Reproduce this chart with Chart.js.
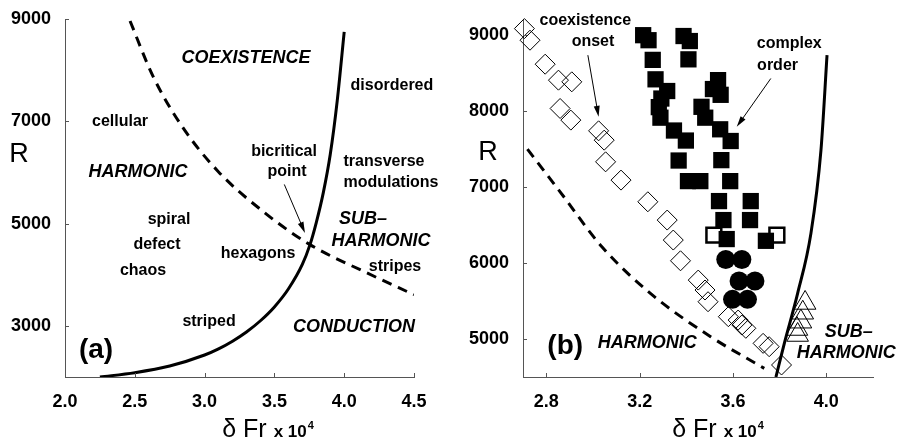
<!DOCTYPE html>
<html><head><meta charset="utf-8">
<script src="https://cdn.jsdelivr.net/npm/chart.js@4.4.1/dist/chart.umd.min.js"></script>
<style>
html,body{margin:0;padding:0;background:#fff;}
#wrap{position:relative;width:897px;height:443px;overflow:hidden;background:#fff;}
#ca{position:absolute;left:0;top:0;}
#cb{position:absolute;left:450px;top:0;}
</style></head><body>
<div id="wrap"><canvas id="ca" width="450" height="443"></canvas><canvas id="cb" width="447" height="443"></canvas></div>
<script>
// ---------- Panel (a) data ----------
const xTicksA = [2.0, 2.5, 3.0, 3.5, 4.0, 4.5];
const yTicksA = [3000, 5000, 7000, 9000];
const solidAX = [2.25, 2.5, 2.75, 3.0, 3.1, 3.2, 3.3, 3.4, 3.5, 3.6, 3.7, 3.755, 3.8, 3.85, 3.9, 3.95, 4.0];
const solidAY = [2000, 2085, 2215, 2430, 2550, 2700, 2880, 3100, 3370, 3720, 4200, 4588, 5020, 5600, 6350, 7400, 8750];
const dashAX = [2.466, 2.63, 2.838, 3.097, 3.447, 3.755, 4.16, 4.5];
const dashAY = [8960, 7882, 6902, 6020, 5176, 4588, 4039, 3608];
const annTextA = ['COEXISTENCE', 'disordered', 'cellular', 'HARMONIC', 'bicritical', 'point', 'transverse', 'modulations',
  'SUB\u2013', 'HARMONIC', 'spiral', 'defect', 'chaos', 'hexagons', 'stripes', 'striped', 'CONDUCTION', '(a)'];
const annXA = [3.297, 4.342, 2.394, 2.523, 3.569, 3.59, 4.285, 4.335, 4.135, 4.264, 2.745, 2.659, 2.559, 3.383, 4.364, 3.032, 4.07, 2.222];
const annYA = [8235, 7706, 7000, 6000, 6412, 6020, 6216, 5804, 5098, 4667, 5078, 4588, 4078, 4412, 4157, 3078, 2980, 2529];
const annKindA = ['c', 'l', 'l', 'c', 'l', 'l', 'l', 'l', 'c', 'c', 'l', 'l', 'l', 'l', 'l', 'l', 'c', 'p'];
const arrowsA = [[3.571, 5765, 3.719, 4818]];

// ---------- Panel (b) data ----------
const xTicksB = [2.8, 3.2, 3.6, 4.0];
const yTicksB = [5000, 6000, 7000, 8000, 9000];
const solidBX = [3.784, 3.82, 3.877, 3.934, 3.977, 4.003];
const solidBY = [4500, 4943, 5601, 6391, 7487, 8737];
const dashBX = [2.719, 2.859, 3.038, 3.246, 3.504, 3.734];
const dashBY = [7500, 6938, 6215, 5601, 5031, 4614];
const diamondX = [2.706, 2.73, 2.795, 2.852, 2.909, 2.859, 2.905, 3.024, 3.048, 3.054, 3.12, 3.235, 3.318, 3.344, 3.375, 3.451, 3.48, 3.493, 3.58, 3.622, 3.638, 3.655, 3.729, 3.755, 3.808];
const diamondY = [9087, 8934, 8618, 8408, 8386, 8035, 7882, 7741, 7618, 7333, 7092, 6807, 6566, 6303, 6030, 5776, 5645, 5491, 5294, 5250, 5184, 5141, 4943, 4899, 4658];
const squareX = [3.215, 3.238, 3.256, 3.268, 3.318, 3.293, 3.282, 3.289, 3.347, 3.398, 3.367, 3.407, 3.46, 3.388, 3.415, 3.409, 3.536, 3.514, 3.547, 3.465, 3.481, 3.545, 3.59, 3.55, 3.588, 3.54, 3.676, 3.559, 3.673, 3.573, 3.741];
const squareY = [9000, 8934, 8675, 8419, 8265, 8166, 8053, 7914, 7745, 7613, 7350, 7079, 7079, 8989, 8923, 8682, 8408, 8291, 8215, 8057, 7914, 7761, 7607, 7355, 7079, 6816, 6816, 6566, 6566, 6316, 6293];
const circleX = [3.569, 3.638, 3.626, 3.694, 3.598, 3.662];
const circleY = [6048, 6048, 5763, 5763, 5522, 5522];
const openSqX = [3.518, 3.788];
const openSqY = [6368, 6368];
const triX = [3.909, 3.899, 3.891, 3.874, 3.877];
const triY = [5475, 5346, 5228, 5132, 5053];
const annTextB = ['coexistence', 'onset', 'complex', 'order', '(b)', 'HARMONIC', 'SUB\u2013', 'HARMONIC'];
const annXB = [2.967, 3.0, 3.841, 3.791, 2.881, 3.232, 4.096, 4.085];
const annYB = [9197, 8912, 8890, 8596, 4899, 4943, 5096, 4811];
const annKindB = ['l', 'l', 'l', 'l', 'p', 'c', 'c', 'c'];
const arrowsB = [[2.978, 8737, 3.024, 7925], [3.762, 8430, 3.616, 7793]];

// ---------- helpers ----------
const FAM = "'Liberation Sans', Arial, Helvetica, sans-serif";
Chart.defaults.font.family = FAM;
const pts = (xs, ys) => xs.map((x, i) => ({x: x, y: ys[i]}));
const kindFont = {c: 'italic bold 18px ' + FAM, l: 'bold 16px ' + FAM, p: 'bold 28px ' + FAM};

function decor(cfg) {
  return {
    id: 'decor',
    afterDraw(chart) {
      const ctx = chart.ctx, xs = chart.scales.x, ys = chart.scales.y, ca = chart.chartArea;
      ctx.save();
      // inward ticks
      ctx.strokeStyle = '#555'; ctx.lineWidth = 1;
      cfg.xTicks.forEach(v => {
        const p = Math.round(xs.getPixelForValue(v)) + 0.5;
        ctx.beginPath(); ctx.moveTo(p, ca.bottom); ctx.lineTo(p, ca.bottom - 4); ctx.stroke();
      });
      cfg.yTicks.forEach(v => {
        const p = Math.round(ys.getPixelForValue(v)) + 0.5;
        ctx.beginPath(); ctx.moveTo(ca.left, p); ctx.lineTo(ca.left + 4, p); ctx.stroke();
      });
      // arrows
      ctx.strokeStyle = '#000'; ctx.fillStyle = '#000'; ctx.lineWidth = 1;
      cfg.arrows.forEach(a => {
        const x1 = xs.getPixelForValue(a[0]), y1 = ys.getPixelForValue(a[1]);
        const x2 = xs.getPixelForValue(a[2]), y2 = ys.getPixelForValue(a[3]);
        const ang = Math.atan2(y2 - y1, x2 - x1), L = 11, W = 3;
        ctx.beginPath(); ctx.moveTo(x1, y1);
        ctx.lineTo(x2 - Math.cos(ang) * L * 0.8, y2 - Math.sin(ang) * L * 0.8); ctx.stroke();
        ctx.beginPath(); ctx.moveTo(x2, y2);
        ctx.lineTo(x2 - Math.cos(ang) * L - Math.sin(ang) * W, y2 - Math.sin(ang) * L + Math.cos(ang) * W);
        ctx.lineTo(x2 - Math.cos(ang) * L + Math.sin(ang) * W, y2 - Math.sin(ang) * L - Math.cos(ang) * W);
        ctx.closePath(); ctx.fill();
      });
      // annotations
      ctx.textAlign = 'center'; ctx.textBaseline = 'middle'; ctx.fillStyle = '#000';
      cfg.text.forEach((t, i) => {
        ctx.font = kindFont[cfg.kind[i]];
        ctx.fillText(t, xs.getPixelForValue(cfg.tx[i]), ys.getPixelForValue(cfg.ty[i]));
      });
      // y title "R"
      ctx.font = '27px ' + FAM;
      ctx.fillText('R', cfg.rX, cfg.rY);
      // x title
      ctx.textAlign = 'left'; ctx.textBaseline = 'alphabetic';
      const f1 = '25px ' + FAM, f2 = 'bold 17px ' + FAM, f3 = 'bold 11px ' + FAM;
      ctx.font = f1; const w1 = ctx.measureText('\u03b4 Fr').width;
      ctx.font = f2; const w2 = ctx.measureText('x 10').width;
      ctx.font = f3; const w3 = ctx.measureText('4').width;
      const gap = 7, total = w1 + gap + w2 + 1 + w3;
      let x0 = cfg.tCenter - total / 2; const base = 437;
      ctx.font = f1; ctx.fillText('\u03b4 Fr', x0, base);
      ctx.font = f2; ctx.fillText('x 10', x0 + w1 + gap, base);
      ctx.font = f3; ctx.fillText('4', x0 + w1 + gap + w2 + 1, base - 8);
      ctx.restore();
    }
  };
}

function axes(xMin, xMax, yMin, yMax, xT, yT, yW, xDigits) {
  return {
    x: {
      type: 'linear', min: xMin, max: xMax,
      afterBuildTicks: s => { s.ticks = xT.map(v => ({value: v})); },
      afterFit: s => { s.height = 66; },
      grid: {display: false},
      border: {display: true, color: '#555', width: 1},
      ticks: {autoSkip: false, maxRotation: 0, padding: 6, color: '#000',
        font: {size: 18, weight: 'bold'}, callback: v => Number(v).toFixed(xDigits)}
    },
    y: {
      type: 'linear', min: yMin, max: yMax,
      afterBuildTicks: s => { s.ticks = yT.map(v => ({value: v})); },
      afterFit: s => { s.width = yW; },
      grid: {display: false},
      border: {display: true, color: '#555', width: 1},
      ticks: {autoSkip: false, padding: 6, color: '#000',
        font: {size: 18, weight: 'bold'}, callback: v => String(v)}
    }
  };
}

const lineDs = (xs, ys, dashed) => ({
  data: pts(xs, ys), showLine: true, pointRadius: 0, borderColor: '#000', borderWidth: 3,
  borderDash: dashed ? [10, 7] : [], cubicInterpolationMode: 'monotone', fill: false, order: 1
});

// ---------- Chart (a) ----------
new Chart(document.getElementById('ca'), {
  type: 'scatter',
  data: {datasets: [lineDs(solidAX, solidAY, false), lineDs(dashAX, dashAY, true)]},
  options: {
    responsive: false, animation: false, events: [],
    layout: {padding: {left: 0, right: 36, top: 19, bottom: 0}},
    plugins: {legend: {display: false}, tooltip: {enabled: false}},
    scales: axes(2.0, 4.5, 2000, 9000, xTicksA, yTicksA, 65, 1)
  },
  plugins: [decor({xTicks: xTicksA, yTicks: yTicksA, arrows: arrowsA, text: annTextA, tx: annXA, ty: annYA,
    kind: annKindA, rX: 19, rY: 155, tCenter: 268})]
});

// ---------- Chart (b) ----------
new Chart(document.getElementById('cb'), {
  type: 'scatter',
  data: {datasets: [
    lineDs(solidBX, solidBY, false),
    lineDs(dashBX, dashBY, true),
    {data: pts(diamondX, diamondY), pointStyle: 'rectRot', pointRadius: 10, pointBorderWidth: 1,
      pointBorderColor: '#000', pointBackgroundColor: 'rgba(0,0,0,0)', showLine: false, clip: false, order: 2},
    {data: pts(triX, triY), pointStyle: 'triangle', pointRadius: 12.5, pointBorderWidth: 1,
      pointBorderColor: '#000', pointBackgroundColor: 'rgba(0,0,0,0)', showLine: false, clip: false, order: 2},
    {data: pts(circleX, circleY), pointStyle: 'circle', pointRadius: 9.5, pointBorderWidth: 0,
      pointBorderColor: '#000', pointBackgroundColor: '#000', showLine: false, clip: false, order: 3},
    {data: pts(squareX, squareY), pointStyle: 'rect', pointRadius: 11.5, pointBorderWidth: 0,
      pointBorderColor: '#000', pointBackgroundColor: '#000', showLine: false, clip: false, order: 4},
    {data: pts(openSqX, openSqY), pointStyle: 'rect', pointRadius: 10.5, pointBorderWidth: 2.5,
      pointBorderColor: '#000', pointBackgroundColor: '#fff', showLine: false, clip: false, order: 5}
  ]},
  options: {
    responsive: false, animation: false, events: [],
    layout: {padding: {left: 0, right: 24, top: 20, bottom: 0}},
    plugins: {legend: {display: false}, tooltip: {enabled: false}},
    scales: axes(2.7, 4.2, 4500, 9200, xTicksB, yTicksB, 73, 1)
  },
  plugins: [decor({xTicks: xTicksB, yTicks: yTicksB, arrows: arrowsB, text: annTextB, tx: annXB, ty: annYB,
    kind: annKindB, rX: 38, rY: 153, tCenter: 268})]
});
</script>
</body></html>
